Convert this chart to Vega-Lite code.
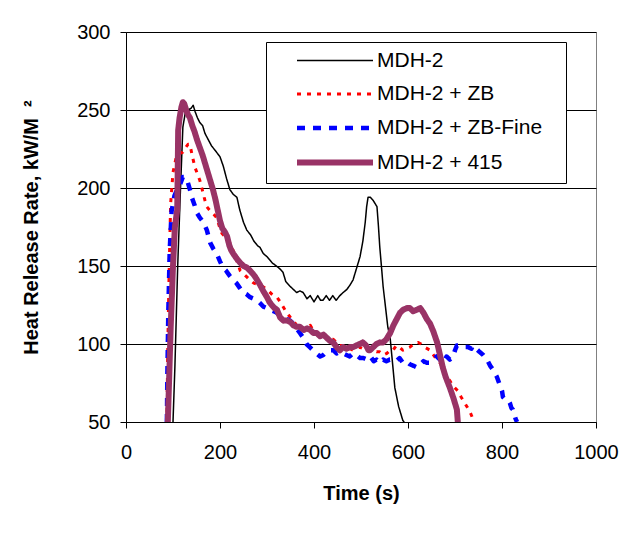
{
"$schema": "https://vega.github.io/schema/vega-lite/v6.json",
"width": 470, "height": 390,
"autosize": {"type": "none"},
"padding": {"left": 126, "top": 32, "right": 25, "bottom": 111},
"background": "white",
"config": {"font": "Liberation Sans", "view": {"stroke": "#808080", "strokeWidth": 1}},
"datasets": {
"black": [[100,50],[104,85],[110,150],[116,200],[121,239],[126,248],[132,250],[138,251],[143,253],[147,249],[152,245],[157,242],[163,240],[168,235],[175,231],[182,227],[190,224],[200,220],[207,214],[214,206],[221,199],[228,196],[236,194],[242,186],[250,178],[257,173],[265,170],[272,166],[280,163],[285,162],[292,158],[300,156],[311,152],[320,150],[328,148],[334,146],[340,140],[349,137],[356,135],[363,133],[370,134],[377,133],[385,129],[392,131],[400,127],[408,131],[414,128],[419,128],[426,131],[433,128],[440,131],[447,128],[455,131],[462,133],[470,135],[477,138],[483,141],[490,148],[498,156],[504,166],[509,178],[512,188],[515,194],[520,194],[526,192],[530,190],[534,188],[537,176],[540,162],[544,148],[547,137],[552,124],[557,111],[562,104],[567,88],[572,72],[580,60],[589,51],[592,50]],
"red": [[87,50],[89,100],[92,150],[95,190],[100,210],[107,220],[114,222],[121,223],[127,226],[132,228],[136,228],[140,222],[143,218],[147,213],[152,209],[157,205],[163,198],[168,192],[172,188],[180,185],[187,183],[193,181],[198,176],[204,171],[210,169],[216,167],[221,165],[228,160],[236,153],[243,147],[250,145],[257,143],[264,141],[272,139],[281,138],[290,137],[300,135],[310,132],[321,130],[328,127],[334,124],[342,120],[350,117],[356,115],[363,112],[372,111],[378,110],[385,109],[392,112],[400,108],[406,106],[413,107],[420,105],[427,104],[434,103],[441,103],[448,101],[455,99],[462,99],[469,98],[476,97],[483,96],[490,97],[497,98],[504,97],[511,96],[519,97],[526,96],[533,95],[540,95],[548,93],[555,94],[562,96],[568,96],[575,99],[582,98],[589,96],[596,97],[604,98],[612,100],[621,101],[628,100],[635,98],[641,97],[647,96],[654,93],[661,90],[668,88],[675,84],[683,79],[690,76],[696,73],[706,70],[713,66],[721,62],[729,58],[734,55],[738,52],[742,50]],
"blue": [[87,50],[88,80],[90,120],[93,160],[97,185],[103,195],[110,200],[116,203],[121,207],[126,207],[130,205],[136,199],[140,194],[146,189],[151,184],[157,181],[165,178],[172,173],[179,165],[186,161],[193,158],[200,153],[206,149],[213,147],[220,144],[228,141],[235,139],[242,136],[249,133],[256,132],[264,130],[272,129],[279,128],[286,126],[292,124],[300,123],[307,122],[314,121],[321,120],[328,118],[335,117],[342,116],[349,115],[356,113],[363,110],[370,107],[377,104],[384,100],[391,98],[398,96],[405,94],[413,92],[420,93],[427,95],[434,96],[441,96],[448,94],[455,95],[462,94],[469,93],[476,92],[483,94],[490,93],[498,91],[505,91],[513,90],[520,92],[527,89],[533,90],[540,88],[547,90],[554,89],[561,90],[568,90],[575,89],[582,91],[589,88],[596,89],[604,87],[612,86],[619,85],[626,87],[633,89],[640,88],[647,88],[654,90],[661,92],[668,90],[675,88],[682,92],[689,90],[693,91],[696,92],[700,96],[704,99],[712,99],[720,98],[728,98],[735,97],[738,99],[745,97],[752,95],[760,93],[768,90],[775,86],[782,83],[789,79],[795,74],[800,70],[802,66],[808,64],[813,64],[817,62],[820,59],[823,58],[826,55],[829,52],[832,50]],
"purple": [[89,50],[92,80],[95,110],[100,150],[104,175],[109,186],[110,210],[111,237],[114,245],[118,252],[121,255],[124,254],[128,250],[132,247],[136,245],[141,240],[146,236],[151,231],[157,226],[163,221],[168,216],[174,210],[180,204],[185,199],[190,193],[195,186],[200,179],[205,174],[210,172],[215,169],[220,163],[224,160],[228,158],[235,155],[243,152],[250,150],[257,149],[264,147],[270,145],[275,143],[279,141],[285,138],[292,134],[300,130],[305,127],[310,125],[316,123],[321,122],[328,117],[335,115],[343,115],[350,114],[356,112],[363,111],[370,111],[378,109],[385,110],[392,109],[399,107],[406,107],[413,105],[420,106],[427,104],[434,102],[441,101],[448,98],[455,96],[462,98],[469,97],[476,98],[483,98],[490,99],[497,100],[504,101],[511,99],[516,96],[519,96],[526,98],[533,100],[540,101],[547,101],[554,103],[562,107],[569,112],[576,116],[583,120],[590,122],[598,123],[604,123],[611,121],[619,122],[626,123],[633,120],[640,116],[647,113],[654,108],[662,101],[668,93],[674,85],[680,79],[689,72],[697,65],[700,62],[704,58],[706,50]]
},
"layer": [
  {"data": {"name": "black"}, "transform": [{"calculate": "datum[0]", "as": "t"}, {"calculate": "datum[1]", "as": "hrr"}, {"calculate": "'MDH-2'", "as": "s"}], "mark": {"type": "line", "clip": true, "strokeJoin": "round"}},
  {"data": {"name": "red"}, "transform": [{"calculate": "datum[0]", "as": "t"}, {"calculate": "datum[1]", "as": "hrr"}, {"calculate": "'MDH-2 + ZB'", "as": "s"}], "mark": {"type": "line", "clip": true, "strokeJoin": "round"}},
  {"data": {"name": "blue"}, "transform": [{"calculate": "datum[0]", "as": "t"}, {"calculate": "datum[1]", "as": "hrr"}, {"calculate": "'MDH-2 + ZB-Fine'", "as": "s"}], "mark": {"type": "line", "clip": true, "strokeJoin": "round"}},
  {"data": {"name": "purple"}, "transform": [{"calculate": "datum[0]", "as": "t"}, {"calculate": "datum[1]", "as": "hrr"}, {"calculate": "'MDH-2 + 415'", "as": "s"}], "mark": {"type": "line", "clip": true, "strokeJoin": "round", "strokeCap": "round"}}
],
"encoding": {
  "x": {"field": "t", "type": "quantitative", "scale": {"domain": [0, 1000], "nice": false},
    "axis": {"values": [0, 200, 400, 600, 800, 1000], "format": "d", "title": "Time (s)", "grid": false, "domainColor": "black", "tickColor": "black", "tickSize": 6, "labelFontSize": 20, "labelColor": "black", "labelPadding": 14, "labelFlush": false, "titleFontSize": 20, "titleFontWeight": "bold", "titleColor": "black", "titlePadding": 21}},
  "y": {"field": "hrr", "type": "quantitative", "scale": {"domain": [50, 300], "nice": false, "zero": false},
    "axis": {"values": [50, 100, 150, 200, 250, 300], "title": "Heat Release Rate, kW/M\u00a0\u00a0²", "grid": true, "gridColor": "black", "gridOpacity": 1, "domainColor": "black", "tickColor": "black", "tickSize": 6, "labelFontSize": 20, "labelColor": "black", "labelPadding": 10, "titleFontSize": 20, "titleFontWeight": "bold", "titleColor": "black", "titlePadding": 35}},
  "color": {"field": "s", "type": "nominal",
    "scale": {"domain": ["MDH-2", "MDH-2 + ZB", "MDH-2 + ZB-Fine", "MDH-2 + 415"], "range": ["#000000", "#ff0000", "#0000ff", "#993366"]},
    "legend": {"orient": "none", "legendX": 140, "legendY": 10, "title": null, "symbolType": "M-4,0H4", "symbolSize": 361, "labelFontSize": 21, "labelColor": "black", "labelLimit": 400, "strokeColor": "black", "fillColor": "white", "padding": 8, "symbolOffset": 48.5, "labelOffset": 29.5, "rowPadding": 12, "labelExpr": "datum.label + '\u2800'"}},
  "strokeDash": {"field": "s", "type": "nominal",
    "scale": {"domain": ["MDH-2", "MDH-2 + ZB", "MDH-2 + ZB-Fine", "MDH-2 + 415"], "range": [[1, 0], [4, 6], [8, 8], [1, 0]]}},
  "strokeWidth": {"field": "s", "type": "ordinal",
    "scale": {"domain": ["MDH-2", "MDH-2 + ZB", "MDH-2 + ZB-Fine", "MDH-2 + 415"], "range": [1.5, 6]}}
}
}
